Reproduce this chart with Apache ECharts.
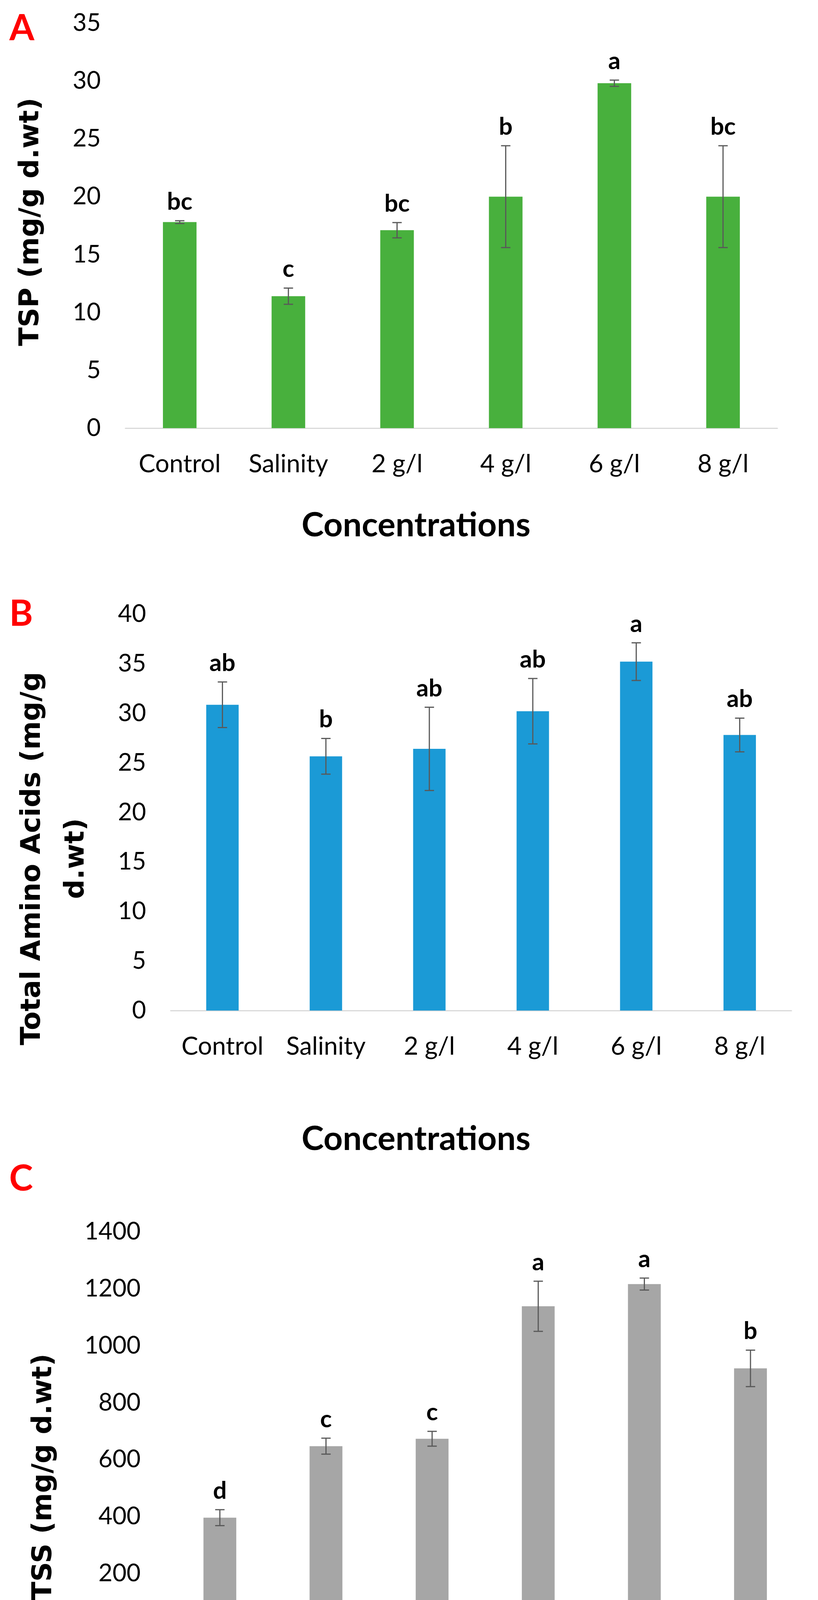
<!DOCTYPE html>
<html>
<head>
<meta charset="utf-8">
<script src="https://cdn.jsdelivr.net/npm/echarts@6/dist/echarts.min.js"></script>
<style>
html,body{margin:0;padding:0;background:#fff;overflow:hidden;}
#c{width:2094px;height:4498px;}
</style>
</head>
<body>
<div id="c"></div>
<script>
// ---- data ----
const categories = ['Control', 'Salinity', '2 g/l', '4 g/l', '6 g/l', '8 g/l'];

const tspMean = [17.8, 11.4, 17.1, 20.0, 29.8, 20.0];
const tspSD   = [0.12, 0.7, 0.66, 4.4, 0.27, 4.4];
const tspLetters = ['bc', 'c', 'bc', 'b', 'a', 'bc'];

const taaMean = [30.85, 25.65, 26.4, 30.2, 35.2, 27.8];
const taaSD   = [2.3, 1.8, 4.2, 3.3, 1.9, 1.7];
const taaLetters = ['ab', 'b', 'ab', 'ab', 'a', 'ab'];

const tssMean = [396, 647, 673, 1138, 1216, 920];
const tssSD   = [28, 28, 26, 88, 21, 64];
const tssLetters = ['d', 'c', 'c', 'a', 'a', 'b'];

const yTicksA = {min: 0, max: 35, interval: 5};
const yTicksB = {min: 0, max: 40, interval: 5};
const yTicksC = {min: 0, max: 1400, interval: 200};

// ---- styling ----
const FONT = 'Lato, "Open Sans", "Noto Sans", sans-serif';
const TITLE_FONT = '"DejaVu Sans", Verdana, sans-serif';
const ERR = '#595959';

const chart = echarts.init(document.getElementById('c'), null, {renderer: 'canvas'});

function errData(mean, sd) {
  return mean.map((m, i) => [i, m, sd[i]]);
}

function makeRender(letters) {
  return function (params, api) {
    const i = api.value(0), m = api.value(1), e = api.value(2);
    const top = api.coord([i, m + e]);
    const bot = api.coord([i, m - e]);
    const x = top[0];
    const st = {stroke: ERR, lineWidth: 3};
    return {
      type: 'group',
      children: [
        {type: 'line', shape: {x1: x, y1: top[1], x2: x, y2: bot[1]}, style: st},
        {type: 'line', shape: {x1: x - 12, y1: top[1], x2: x + 12, y2: top[1]}, style: st},
        {type: 'line', shape: {x1: x - 12, y1: bot[1], x2: x + 12, y2: bot[1]}, style: st},
        {type: 'text', style: {
          text: letters[i], x: x, y: top[1] - 48,
          align: 'center', verticalAlign: 'middle',
          fontFamily: FONT, fontWeight: 'bold', fontSize: 62, fill: '#000'
        }}
      ]
    };
  };
}

const grids = [
  {left: 321, top: 59, width: 1669, height: 1037},
  {left: 437, top: 1572, width: 1589, height: 1015},
  {left: 427, top: 3153, width: 1630, height: 1021}
];
const yMargins = [63, 63, 67];
const yRanges = [yTicksA, yTicksB, yTicksC];

const xAxes = grids.map((g, k) => ({
  type: 'category', gridIndex: k, data: categories,
  axisLine: {show: true, lineStyle: {color: '#D9D9D9', width: 3}},
  axisTick: {show: false},
  axisLabel: {interval: 0, margin: 60, fontFamily: FONT, fontSize: 64, color: '#000'},
  splitLine: {show: false}
}));

const yAxes = grids.map((g, k) => ({
  type: 'value', gridIndex: k,
  min: yRanges[k].min, max: yRanges[k].max, interval: yRanges[k].interval,
  axisLine: {show: false}, axisTick: {show: false},
  splitLine: {show: false},
  axisLabel: {margin: yMargins[k], fontFamily: FONT, fontSize: 62, color: '#000',
    formatter: v => String(v)}
}));

const barColors = ['#48B03D', '#1B9AD6', '#A6A6A6'];
const barWidths = [86, 83, 84];
const means = [tspMean, taaMean, tssMean];
const sds = [tspSD, taaSD, tssSD];
const letters = [tspLetters, taaLetters, tssLetters];

const series = [];
for (let k = 0; k < 3; k++) {
  series.push({
    type: 'bar', xAxisIndex: k, yAxisIndex: k,
    data: means[k], barWidth: barWidths[k],
    itemStyle: {color: barColors[k]},
    silent: true, animation: false
  });
  series.push({
    type: 'custom', xAxisIndex: k, yAxisIndex: k,
    data: errData(means[k], sds[k]),
    encode: {x: 0, y: 1},
    renderItem: makeRender(letters[k]),
    z: 10, silent: true, animation: false
  });
}

function txt(text, x, y, size, opts) {
  opts = opts || {};
  return {
    type: 'text', x: x, y: y, rotation: opts.rot || 0,
    style: {
      text: text, align: 'center', verticalAlign: 'middle',
      fontFamily: opts.family || FONT, fontWeight: 'bold', fontSize: size,
      fill: opts.color || '#000', lineHeight: opts.lh || size
    }
  };
}

const graphics = [
  txt('A', 56, 73, 92, {color: '#FF0000'}),
  txt('B', 54, 1572, 92, {color: '#FF0000'}),
  txt('C', 54, 3018, 92, {color: '#FF0000'}),
  txt('TSP (mg/g d.wt)', 80, 568, 70, {rot: Math.PI / 2, family: TITLE_FONT}),
  txt('Total Amino Acids (mg/g\nd.wt)', 140, 2198, 70, {rot: Math.PI / 2, family: TITLE_FONT, lh: 112}),
  txt('TSS (mg/g d.wt)', 113, 3781, 70, {rot: Math.PI / 2, family: TITLE_FONT}),
  txt('Concentrations', 1065, 1345, 86),
  txt('Concentrations', 1065, 2916, 86),
  txt('Concentrations', 1065, 4437, 86)
];

chart.setOption({
  backgroundColor: '#ffffff',
  animation: false,
  grid: grids,
  xAxis: xAxes,
  yAxis: yAxes,
  series: series,
  graphic: graphics
});
</script>
</body>
</html>
